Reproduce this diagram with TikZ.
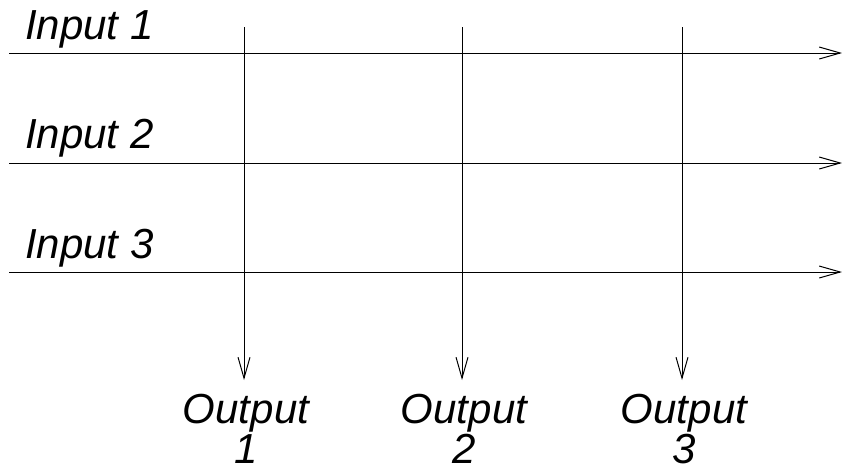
\documentclass[tikz,border=0pt]{standalone}
\usepackage{fontspec}
\setmainfont{Liberation Sans}
\usetikzlibrary{arrows.meta}
\begin{document}
\begin{tikzpicture}[x=1pt,y=-1pt,
  wire/.style={line width=1pt, draw=black, -{Straight Barb[length=21pt,width=12pt,line width=1pt]}},
  lbl/.style={font=\fontsize{42}{40}\selectfont\itshape, inner sep=0pt},
  outlbl/.style={lbl, align=center, anchor=base}]
\useasboundingbox (0,0) rectangle (842,471);
% inputs
\node[lbl, anchor=base west] (in1) at (25,39) {Input 1};
\node[lbl, anchor=base west] (in2) at (25,148) {Input 2};
\node[lbl, anchor=base west] (in3) at (25,258) {Input 3};
\coordinate (s1) at (9,53);  \coordinate (e1) at (842,53);
\coordinate (s2) at (9,163); \coordinate (e2) at (842,163);
\coordinate (s3) at (9,272); \coordinate (e3) at (842,272);
% outputs
\coordinate (t1) at (244,27); \coordinate (b1) at (244,380);
\coordinate (t2) at (462,27); \coordinate (b2) at (462,380);
\coordinate (t3) at (682,27); \coordinate (b3) at (682,380);
\draw[wire] (s1) -- (e1);
\draw[wire] (s2) -- (e2);
\draw[wire] (s3) -- (e3);
\draw[wire] (t1) -- (b1);
\draw[wire] (t2) -- (b2);
\draw[wire] (t3) -- (b3);
\node[outlbl] (out1) at (246,463) {Output\\1};
\node[outlbl] (out2) at (464,463) {Output\\2};
\node[outlbl] (out3) at (684,463) {Output\\3};
\end{tikzpicture}
\end{document}
